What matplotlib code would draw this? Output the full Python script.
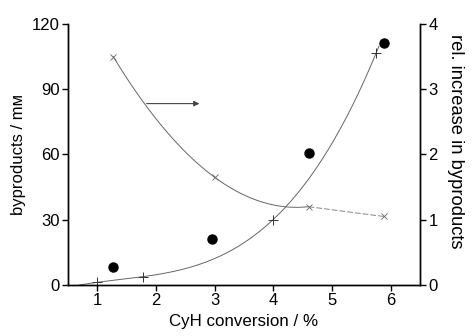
import numpy as np
import matplotlib.pyplot as plt

plt.rcParams['font.family'] = ['Liberation Sans', 'DejaVu Sans']

# measured byproducts (filled circles), left axis
meas_x = [1.27, 2.96, 4.60, 5.89]
meas_y = [8.4, 21.1, 60.5, 111.1]

# model curve points (+), left axis
model_x = [0.99, 1.77, 3.99, 5.75]
model_y = [1.2, 3.8, 29.9, 106.5]

# relative increase (x markers), right axis
rel_x = [1.27, 3.00, 4.60, 5.88]
rel_y = [3.50, 1.65, 1.20, 1.05]

fig = plt.figure(figsize=(4.73, 3.36), dpi=100)
ax = fig.add_axes([0.1438, 0.1518, 0.7442, 0.7768])
ax2 = ax.twinx()

# smooth line through the model points
c = np.polyfit(model_x, model_y, 3)
xs = np.linspace(0.69, 5.8, 200)
ax.plot(xs, np.polyval(c, xs), color='#666666', lw=0.7)
ax.plot(model_x, model_y, ls='none', marker='+', ms=7, mew=0.7, color='#333333')
ax.plot(meas_x, meas_y, ls='none', marker='o', ms=6.5, color='black')

# relative increase: smooth part then dashed tail
c2 = np.polyfit(rel_x[:3], rel_y[:3], 2)
xs2 = np.linspace(rel_x[0], rel_x[2], 200)
ax2.plot(xs2, np.polyval(c2, xs2), color='#666666', lw=0.7)
ax2.plot(rel_x[2:], rel_y[2:], color='#888888', lw=0.7, ls=(0, (6, 2)))
ax2.plot(rel_x, rel_y, ls='none', marker='x', ms=5, mew=0.6, color='#666666')

ax2.annotate('', xy=(2.74, 2.78), xytext=(1.84, 2.78),
             arrowprops=dict(arrowstyle='-|>', color='#444444', lw=0.8,
                             mutation_scale=8, shrinkA=0, shrinkB=0))

ax.set_xlim(0.5, 6.5)
ax.set_ylim(0, 120)
ax2.set_ylim(0, 4)
ax.set_xticks([1, 2, 3, 4, 5, 6])
ax.set_yticks([0, 30, 60, 90, 120])
ax2.set_yticks([0, 1, 2, 3, 4])

for a in (ax, ax2):
    a.spines['top'].set_visible(False)
    a.tick_params(direction='out', length=4, width=1, labelsize=12, pad=2)
    for s in a.spines.values():
        s.set_linewidth(1.0)

ax.set_xlabel('CyH conversion / %', fontsize=12.2, labelpad=4)
ax.set_ylabel('byproducts / mᴍ', fontsize=12, labelpad=4)
ax2.set_ylabel('rel. increase in byproducts', fontsize=13.2, rotation=270,
               ha='center', va='center')
ax2.yaxis.set_label_coords(1.10, 0.55)

fig.savefig('out.png', dpi=100)
